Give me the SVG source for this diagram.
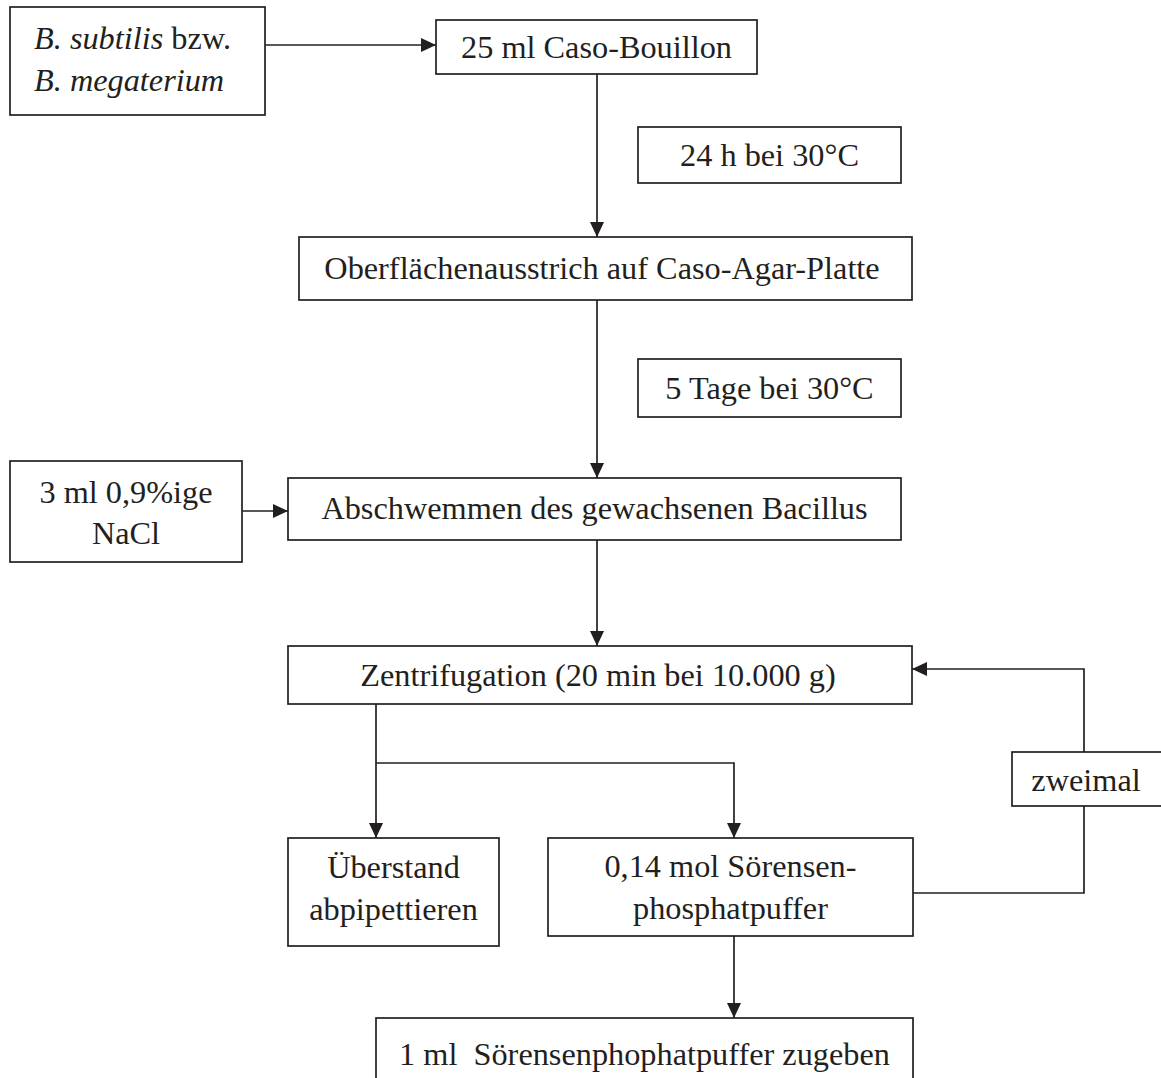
<svg xmlns="http://www.w3.org/2000/svg" width="1161" height="1078" viewBox="0 0 1161 1078">
<defs>
<style>
.box{fill:#fff;stroke:#231f20;stroke-width:1.7}
.t{font-family:"Liberation Serif","Times New Roman",serif;font-size:32.3px;fill:#231f20;text-anchor:middle}
.s{text-anchor:start}
.i{font-style:italic}
.c{fill:none;stroke:#231f20;stroke-width:1.7}
</style>
<marker id="ah" markerWidth="15" markerHeight="14" refX="15" refY="7" orient="auto" markerUnits="userSpaceOnUse">
<path d="M0,0 L15,7 L0,14 Z" fill="#231f20"/>
</marker>
</defs>
<rect width="1161" height="1078" fill="#fff"/>
<g id="connectors">
<path class="c" d="M265,45 H436" marker-end="url(#ah)"/>
<path class="c" d="M597,74 V237" marker-end="url(#ah)"/>
<path class="c" d="M597,300 V478" marker-end="url(#ah)"/>
<path class="c" d="M242,511 H288" marker-end="url(#ah)"/>
<path class="c" d="M597,540 V646" marker-end="url(#ah)"/>
<path class="c" d="M376,704 V838" marker-end="url(#ah)"/>
<path class="c" d="M376,763 H734 V838" marker-end="url(#ah)"/>
<path class="c" d="M913,893 H1084 V806"/>
<path class="c" d="M1084,752 V669 H912" marker-end="url(#ah)"/>
<path class="c" d="M734,936 V1018" marker-end="url(#ah)"/>
</g>
<g id="n1"><rect class="box" x="10" y="7" width="255" height="108"/>
<text class="t s" x="34" y="49"><tspan class="i">B. subtilis</tspan> bzw.</text>
<text class="t s i" x="34" y="91">B. megaterium</text></g>
<g id="n2"><rect class="box" x="436" y="20" width="321" height="54"/><text class="t" x="596.5" y="58">25 ml Caso-Bouillon</text></g>
<g id="n3"><rect class="box" x="638" y="127" width="263" height="56"/><text class="t" x="769.5" y="166">24 h bei 30°C</text></g>
<g id="n4"><rect class="box" x="299" y="237" width="613" height="63"/><text class="t" x="602" y="279">Oberflächenausstrich auf Caso-Agar-Platte</text></g>
<g id="n5"><rect class="box" x="638" y="359" width="263" height="58"/><text class="t" x="769.5" y="399">5 Tage bei 30°C</text></g>
<g id="n6"><rect class="box" x="10" y="461" width="232" height="101"/><text class="t" x="126" y="503">3 ml 0,9%ige</text><text class="t" x="126" y="544">NaCl</text></g>
<g id="n7"><rect class="box" x="288" y="478" width="613" height="62"/><text class="t" x="594.5" y="519">Abschwemmen des gewachsenen Bacillus</text></g>
<g id="n8"><rect class="box" x="288" y="646" width="624" height="58"/><text class="t" x="598" y="686">Zentrifugation (20 min bei 10.000 g)</text></g>
<g id="n9"><rect class="box" x="1012" y="752" width="160" height="54"/><text class="t" x="1086" y="791">zweimal</text></g>
<g id="n10"><rect class="box" x="288" y="838" width="211" height="108"/><text class="t" x="393.5" y="878">Überstand</text><text class="t" x="393.5" y="920">abpipettieren</text></g>
<g id="n11"><rect class="box" x="548" y="838" width="365" height="98"/><text class="t" x="730.5" y="877">0,14 mol Sörensen-</text><text class="t" x="730.5" y="919">phosphatpuffer</text></g>
<g id="n12"><rect class="box" x="376" y="1018" width="537" height="80"/><text class="t" x="644.5" y="1065" xml:space="preserve">1 ml  Sörensenphophatpuffer zugeben</text></g>
</svg>
